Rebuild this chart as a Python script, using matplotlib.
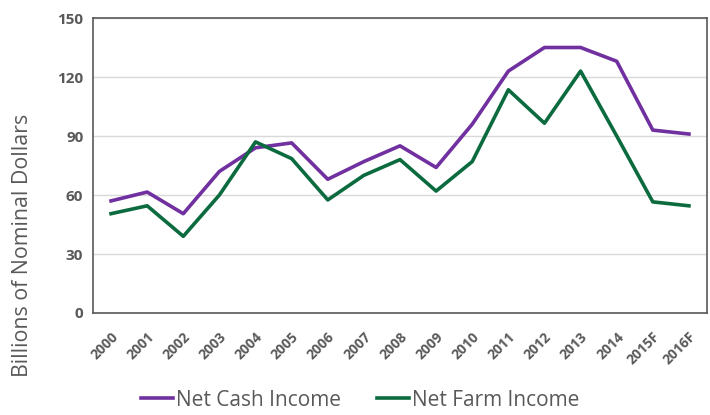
import matplotlib
matplotlib.use("Agg")
import matplotlib.pyplot as plt

years = ["2000", "2001", "2002", "2003", "2004", "2005", "2006", "2007", "2008",
         "2009", "2010", "2011", "2012", "2013", "2014", "2015F", "2016F"]
net_cash = [57, 61.5, 50.5, 72, 84, 86.5, 68, 77, 85, 74, 96, 123, 135, 135, 128, 93, 91]
net_farm = [50.5, 54.5, 39, 60, 87, 78.5, 57.5, 70, 78, 62, 77, 113.5, 96.5, 123, 90, 56.5, 54.5]
yticks = [0, 30, 60, 90, 120, 150]

plt.rcParams['font.family'] = ['Open Sans', 'DejaVu Sans']

fig = plt.figure(figsize=(7.1, 4.15), dpi=100)
ax = fig.add_axes([93/710, 1 - 313/415, 614/710, 295/415])

x = range(len(years))
ax.plot(x, net_cash, color="#7030A0", lw=2.6, label="Net Cash Income")
ax.plot(x, net_farm, color="#0B6B3F", lw=2.6, label="Net Farm Income")

ax.set_xlim(-0.5, len(years) - 0.5)
ax.set_ylim(0, 150)
ax.set_yticks(yticks)
ax.set_yticklabels([str(v) for v in yticks], fontsize=11, fontweight="bold", color="#595959")
ax.set_xticks(list(x))
ax.set_xticklabels(years, rotation=45, ha="right", rotation_mode="anchor",
                   fontsize=10, fontweight="bold", color="#595959")
ax.tick_params(axis="y", length=0, pad=7)
ax.tick_params(axis="x", length=0, pad=12)
ax.yaxis.grid(True, color="#d9d9d9", lw=1)
ax.set_axisbelow(True)
for s in ax.spines.values():
    s.set_color("#595959")
    s.set_linewidth(1.2)

# y label sits lower than the axes centre in the original
fig.text(23/710, 1 - 245/415, "Billions of Nominal Dollars", rotation=90,
         ha="center", va="center", fontsize=15.4, color="#595959")

ax.legend(loc="center", bbox_to_anchor=(360/710, 1 - 400/415), bbox_transform=fig.transFigure,
          ncol=2, frameon=False, handlelength=1.55, handletextpad=0.15, columnspacing=1.7,
          labelcolor="#595959", fontsize=15)

fig.savefig("out.png", dpi=100)
